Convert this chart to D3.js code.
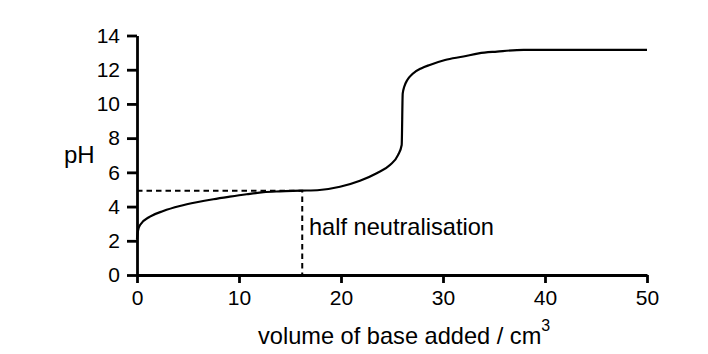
<!DOCTYPE html>
<html><head><meta charset="utf-8">
<script src="https://cdn.jsdelivr.net/npm/d3@7"></script>
<style>body{margin:0;background:#fff}text{font-family:"Liberation Sans",Arial,sans-serif;fill:#000}</style>
</head><body>
<svg id="c" width="708" height="354"></svg>
<script>
const xTicks = [0, 10, 20, 30, 40, 50];
const yTicks = [0, 2, 4, 6, 8, 10, 12, 14];
const volume = [0, 0.1, 0.3, 1.27, 2.58, 4.2, 5.85, 7.48, 9.1, 10.75, 12.4, 14, 16.1, 17.9, 19.9, 21.86, 23.5, 24.8, 25.6, 25.95, 26.05, 26.2, 26.5, 27, 27.9, 28.7, 30.2, 32, 33.5, 35.3, 37.9, 50];
const pH = [2.1, 2.6, 2.92, 3.41, 3.74, 4.03, 4.25, 4.43, 4.58, 4.72, 4.84, 4.89, 4.93, 4.97, 5.16, 5.51, 5.95, 6.43, 7.02, 7.6, 10.6, 11.0, 11.4, 11.75, 12.09, 12.28, 12.57, 12.77, 12.96, 13.06, 13.16, 13.16];
const halfVolume = 16.2, halfPH = 4.93;

const svg = d3.select("#c");
const x = d3.scaleLinear().domain([0, 50]).range([137, 647]);
const y = d3.scaleLinear().domain([0, 14]).range([275, 35.5]);

// dashed guides
svg.append("path").attr("d", d3.line()([[x(0), y(halfPH)], [x(halfVolume), y(halfPH)], [x(halfVolume), y(0)]]))
  .attr("fill", "none").attr("stroke", "#000").attr("stroke-width", 2).attr("stroke-dasharray", "5.5,4");

// curve
const pts = volume.map((v, i) => [v, pH[i]]);
svg.append("path").datum(pts)
  .attr("d", d3.line().x(d => x(d[0])).y(d => y(d[1])).curve(d3.curveMonotoneX))
  .attr("fill", "none").attr("stroke", "#000").attr("stroke-width", 2.2);

// axes
const xa = svg.append("g").attr("transform", `translate(0,${y(0)})`)
  .call(d3.axisBottom(x).tickValues(xTicks).tickSize(8).tickSizeOuter(0).tickPadding(4));
const ya = svg.append("g").attr("transform", `translate(${x(0)},0)`)
  .call(d3.axisLeft(y).tickValues(yTicks).tickSize(10).tickSizeOuter(0).tickPadding(7));
[xa, ya].forEach(g => {
  g.select(".domain").attr("stroke", "#000").attr("stroke-width", 2.8);
  g.selectAll(".tick line").attr("stroke", "#000").attr("stroke-width", 2.8);
  g.selectAll(".tick text").attr("font-size", 21).attr("font-family", "Liberation Sans, Arial, sans-serif").attr("fill", "#000");
});
xa.selectAll(".tick text").attr("dy", "0.85em");

svg.append("text").attr("x", 309).attr("y", 235).attr("font-size", 23.6).text("half neutralisation");
svg.append("text").attr("x", 64).attr("y", 163).attr("font-size", 24).text("pH");
const xl = svg.append("text").attr("x", 258).attr("y", 344).attr("font-size", 23.6);
xl.append("tspan").text("volume of base added / cm");
xl.append("tspan").attr("dy", -13).attr("font-size", 16).text("3");
</script>
</body></html>
